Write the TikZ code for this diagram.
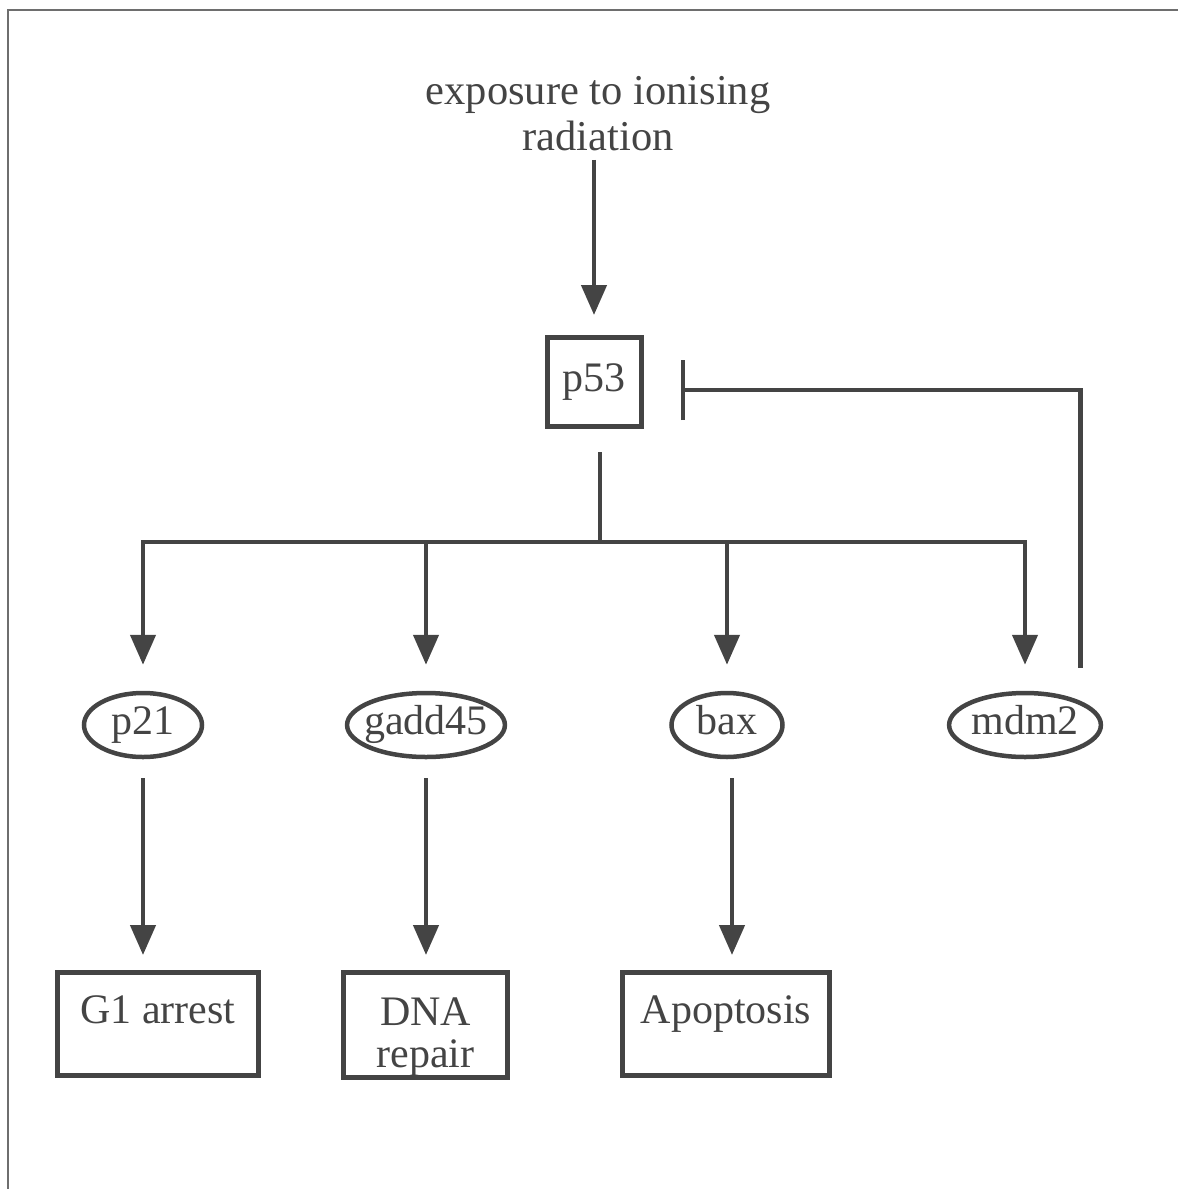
\documentclass[tikz,border=0pt]{standalone}
\usepackage{fontspec}
\setmainfont{Liberation Serif}
\usepackage{tikz}
\usetikzlibrary{arrows.meta,shapes,positioning}
\usepackage{xcolor}
\definecolor{pwgray}{RGB}{68,68,68}
\definecolor{pwframe}{RGB}{110,110,110}
\tikzstyle{gene} = [ellipse, draw=pwgray, line width=4.5pt, inner sep=0pt, minimum height=64pt, text height=28pt, text depth=9pt]
\tikzstyle{protein} = [rectangle, draw=pwgray, line width=5pt, minimum width=94pt, minimum height=89pt]
\tikzstyle{outcome} = [rectangle, draw=pwgray, line width=5pt, inner sep=0pt, align=center]
\tikzstyle{arrow} = [line width=4.5pt, draw=pwgray, -{Triangle[length=30pt,width=25pt]}]
\tikzstyle{inhibit} = [line width=4.5pt, draw=pwgray, -{Bar[width=60pt]}]
\tikzstyle{link} = [line width=4.5pt, draw=pwgray]

\begin{document}
\begin{tikzpicture}[x=1pt, y=-1pt, every node/.style={text=pwgray, font=\fontsize{42}{45}\selectfont}]
\useasboundingbox (0,0) rectangle (1178,1189);
\draw[pwframe, line width=2pt] (8,1189) -- (8,9.5) -- (1178,9.5);

% Signal and p53
\node (expo) at (598,114) [align=center, font=\fontsize{42.5}{46}\selectfont] {exposure to ionising\\radiation};
\node (p53) [protein] at (594,382) {p53};
\coordinate (hub) at (600,542);

% Target genes
\node (p21) [gene, minimum width=118pt] at (143,725) {p21};
\node (gadd45) [gene, minimum width=156pt, inner xsep=-6pt] at (426,725) {gadd45};
\node (bax) [gene, minimum width=111pt] at (727,725) {bax};
\node (mdm2) [gene, minimum width=151pt] at (1025,725) {mdm2};

% Outcomes
\node (g1) [outcome, minimum width=201pt, text height=50.5pt, text depth=52.5pt] at (158,1024) {G1 arrest};
\node (dna) [outcome, minimum width=164pt, text height=94.5pt, text depth=10.5pt] at (425.5,1025) {DNA\\[-3pt]repair};
\node (apop) [outcome, minimum width=207pt, text height=50.5pt, text depth=52.5pt] at (726,1024) {Apoptosis};

% Arrows
\draw[arrow, shorten <=5pt, shorten >=20pt] (expo.south -| p53) -- (p53);
\draw[link, shorten <=23pt] (p53.south -| hub) -- (hub);
\draw[arrow, shorten >=26pt] (hub) -| (p21);
\draw[arrow, shorten >=26pt] (hub) -| (gadd45);
\draw[arrow, shorten >=26pt] (hub) -| (bax);
\draw[arrow, shorten >=26pt] (hub) -| (mdm2);
\draw[arrow, shorten <=19pt, shorten >=15pt] (p21.south) -- (p21.south |- g1.north);
\draw[arrow, shorten <=19pt, shorten >=15pt] (gadd45.south) -- (gadd45.south |- dna.north);
\draw[arrow, shorten <=19pt, shorten >=15pt] ([xshift=5pt]bax.south) -- ([xshift=5pt]bax.south |- apop.north);

% Feedback
\draw[inhibit, shorten <=33pt, shorten >=37pt] (mdm2.north east) |- ([yshift=-8pt]p53.east);
\end{tikzpicture}
\end{document}
